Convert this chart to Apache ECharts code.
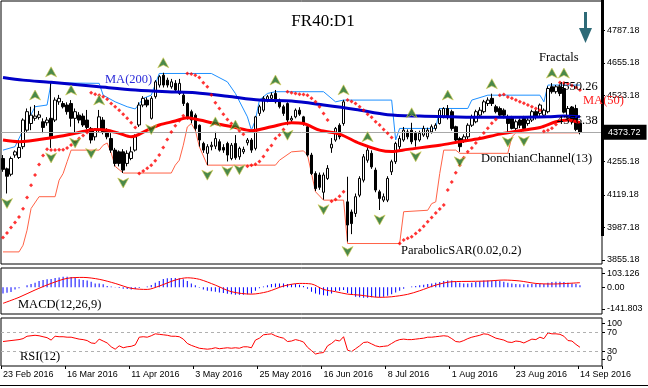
<!DOCTYPE html>
<html><head><meta charset="utf-8">
<script src="https://cdn.jsdelivr.net/npm/echarts@6/dist/echarts.min.js"></script>
<style>html,body{margin:0;padding:0;background:#fff}#c{width:648px;height:388px}</style>
</head><body><div id="c"></div><script>
// ---------- DATA ----------
const open = [4267,4225,4203,4281,4271,4315,4382,4409,4430,4434,
4416,4412,4430,4423,4497,4490,4484,4490,4430,4443,
4439,4423,4389,4355,4382,4423,4382,4348,4301,4294,
4294,4247,4267,4301,4403,4484,4504,4430,4518,4565,
4605,4585,4558,4572,4531,4524,4490,4457,4443,4402,
4328,4288,4315,4317,4335,4312,4328,4267,4328,4274,
4294,4331,4342,4308,4450,4463,4504,4511,4531,4504,
4477,4490,4423,4436,4463,4436,4396,4281,4206,4200,
4130,4186,4310,4342,4402,4409,4091,4050,4044,4118,
4179,4260,4288,4220,4132,4098,4098,4213,4254,4315,
4342,4375,4382,4369,4342,4362,4355,4375,4389,4409,
4436,4470,4457,4396,4348,4342,4355,4402,4416,4443,
4457,4490,4511,4477,4470,4463,4436,4430,4389,4423,
4430,4409,4423,4457,4450,4443,4457,4558,4538,4558,
4551,4430,4476,4470,4410];
const high = [4281,4230,4275,4300,4341,4430,4470,4477,4484,4460,
4430,4435,4578,4515,4525,4500,4495,4504,4470,4455,
4450,4464,4395,4390,4464,4435,4390,4370,4310,4300,
4305,4300,4315,4365,4495,4520,4515,4520,4585,4605,
4615,4595,4590,4585,4590,4535,4495,4465,4450,4405,
4335,4325,4335,4375,4345,4325,4335,4330,4362,4315,
4315,4350,4350,4440,4485,4520,4525,4535,4545,4510,
4485,4495,4440,4470,4475,4440,4400,4290,4215,4210,
4210,4240,4350,4395,4410,4505,4193,4060,4125,4195,
4285,4315,4300,4230,4140,4125,4195,4262,4335,4360,
4395,4385,4412,4378,4380,4400,4392,4405,4410,4470,
4475,4484,4465,4400,4355,4365,4410,4445,4465,4475,
4505,4515,4530,4485,4478,4470,4445,4440,4425,4430,
4440,4435,4465,4465,4490,4470,4560,4573,4565,4565,
4573,4480,4480,4485,4415];
const low = [4213,4125,4195,4270,4265,4305,4375,4382,4420,4425,
4370,4400,4310,4415,4485,4470,4445,4396,4370,4410,
4395,4385,4328,4340,4375,4365,4345,4290,4235,4235,
4208,4235,4260,4295,4395,4475,4475,4425,4510,4555,
4555,4555,4550,4540,4525,4480,4425,4410,4380,4315,
4290,4240,4300,4305,4295,4290,4255,4260,4262,4262,
4285,4320,4290,4300,4440,4455,4495,4500,4490,4470,
4440,4402,4415,4430,4440,4400,4275,4200,4135,4140,
4100,4180,4290,4335,4345,4400,3930,3960,4030,4110,
4170,4250,4225,4130,4058,4090,4090,4200,4245,4305,
4335,4345,4325,4315,4335,4355,4345,4368,4380,4405,
4430,4425,4380,4330,4294,4330,4345,4395,4410,4435,
4450,4480,4480,4450,4435,4430,4375,4385,4380,4390,
4378,4400,4415,4425,4440,4435,4450,4530,4530,4520,
4450,4420,4405,4378,4365];
const close = [4223,4195,4267,4294,4312,4423,4457,4443,4439,4444,
4393,4423,4355,4504,4511,4477,4457,4430,4457,4423,
4403,4393,4342,4382,4436,4375,4355,4301,4247,4247,
4220,4288,4294,4355,4484,4511,4484,4511,4578,4599,
4565,4565,4578,4545,4572,4490,4436,4423,4389,4342,
4301,4315,4321,4348,4301,4301,4281,4321,4270,4308,
4304,4342,4301,4436,4477,4511,4518,4524,4497,4477,
4450,4423,4430,4463,4447,4409,4281,4206,4145,4150,
4200,4227,4325,4389,4355,4497,3997,4003,4112,4186,
4274,4301,4233,4139,4105,4112,4186,4254,4328,4348,
4382,4355,4335,4342,4369,4389,4382,4396,4402,4463,
4470,4436,4389,4342,4315,4355,4402,4436,4457,4463,
4497,4504,4490,4457,4443,4443,4409,4389,4416,4402,
4389,4423,4457,4436,4484,4463,4551,4538,4558,4531,
4455,4470,4415,4385,4373.72];
const lastPrice = 4373.72;

// moving averages / channels: [bar index, value]
const ma200 = [[0,4596],[5,4585],[12,4576],[24,4558],[33,4545],[41,4538],[48,4534],[56,4520],[64,4504],[72,4500],[80,4484],[88,4466],[96,4445],[104,4439],[112,4436],[120,4434],[128,4434],[136,4436],[140,4439],[144,4436]];
const ma50 = [[0,4342],[4,4335],[12,4351],[18,4369],[23,4385],[26,4382],[29,4369],[32,4355],[36,4382],[39,4403],[43,4419],[46,4432],[48,4427],[53,4409],[58,4393],[62,4380],[67,4396],[72,4412],[75,4409],[79,4382],[84,4366],[89,4328],[94,4301],[97,4295],[101,4304],[109,4321],[114,4335],[119,4348],[124,4366],[129,4380],[134,4393],[138,4416],[141,4423],[144,4412]];
const donUpper = [[0,4301],[3,4315],[5,4382],[8,4477],[11,4484],[12,4574],[24,4572],[25,4524],[28,4497],[31,4477],[33,4468],[35,4511],[37,4524],[39,4612],[52,4612],[56,4578],[58,4531],[61,4436],[62,4382],[63,4423],[64,4504],[66,4531],[68,4538],[80,4538],[83,4497],[85,4504],[97,4504],[98,4342],[99,4389],[108,4389],[109,4470],[116,4470],[117,4504],[121,4524],[134,4524],[135,4497],[136,4565],[144,4565]];
const donLower = [[0,3888],[4,3888],[5,3915],[6,3976],[7,4064],[9,4112],[13,4112],[14,4179],[15,4206],[16,4254],[17,4301],[24,4301],[25,4321],[26,4330],[27,4290],[28,4235],[30,4208],[42,4208],[43,4240],[44,4260],[45,4321],[46,4395],[47,4409],[48,4382],[49,4315],[51,4240],[68,4240],[69,4260],[72,4294],[75,4298],[76,4281],[77,4206],[78,4132],[80,4098],[85,4098],[86,3922],[99,3922],[100,4051],[106,4057],[107,4084],[108,4091],[109,4206],[110,4301],[113,4301],[114,4288],[126,4288],[127,4355],[128,4371],[144,4371]];
const sar = [[0,3946],[1,3965],[2,3987],[3,4007],[4,4030],[5,4063],[6,4109],[7,4158],[8,4200],[9,4243],[10,4279],[11,4305],
[12,4301],[13,4301],[14,4303],[15,4303],[16,4310],[17,4322],[18,4335],[19,4348],[20,4360],[21,4372],
[22,4534],[23,4528],[24,4524],[25,4518],[26,4507],[27,4490],[28,4477],[29,4463],[30,4447],[31,4430],[32,4412],[33,4393],
[34,4206],[35,4216],[36,4227],[37,4240],[38,4258],[39,4281],[40,4312],[41,4344],[42,4375],[43,4400],[44,4420],[45,4440],
[46,4612],[47,4610],[48,4605],[49,4596],[50,4574],[51,4558],[52,4525],[53,4493],[54,4470],[55,4447],[56,4425],[57,4409],[58,4395],[59,4380],[60,4365],
[61,4236],[62,4240],[63,4244],[64,4255],[65,4275],[66,4301],[67,4320],[68,4348],[69,4362],[70,4385],
[71,4538],[72,4534],[73,4531],[74,4528],[75,4527],[76,4524],[77,4511],[78,4497],[79,4477],[80,4450],[81,4423],
[82,4094],[83,4101],[84,4114],[85,4132],
[86,4504],[87,4498],[88,4490],[89,4477],[90,4463],[91,4447],[92,4434],[93,4416],[94,4403],[95,4385],[96,4369],[97,4352],
[99,3922],[100,3936],[101,3943],[102,3949],[103,3963],[104,3976],[105,3992],[106,4010],[107,4028],[108,4046],[109,4062],[110,4078],[111,4139],[112,4172],[113,4209],[114,4240],[115,4270],[116,4294],[117,4310],[118,4330],[119,4350],[120,4370],[121,4390],[122,4410],[123,4425],
[124,4524],[125,4527],[126,4517],[127,4511],[128,4504],[129,4497],[130,4491],[131,4484],[132,4477],[133,4470],[134,4463],
[135,4378],[136,4382],[137,4390],[138,4405],
[139,4575],[140,4573],[141,4570],[142,4563],[143,4555],[144,4545]];
const fractalUp = [8,12,17,24,40,53,58,68,85,91,102,111,122,137,140];
const fractalDown = [1,12,18,22,30,37,51,56,59,71,80,86,94,103,114,126,130];

const macdHist = [-32,-29,-25,-11,-5,0,11,18,25,34,
39,43,44,50,53,57,57,55,50,43,
39,36,30,21,21,16,7,4,-1,-4,
-7,-9,-11,-9,-4,0,5,12,25,34,
44,48,50,50,48,43,34,21,11,-2,
-11,-18,-21,-23,-27,-30,-34,-37,-39,-39,
-39,-37,-32,-18,-5,4,11,18,21,21,
21,18,16,18,14,7,-7,-23,-32,-38,
-42,-44,-32,-20,-18,-14,-30,-41,-50,-53,
-55,-55,-53,-51,-53,-50,-44,-36,-27,-18,
-7,0,4,7,11,14,18,21,25,28,
34,36,36,30,25,21,21,25,28,32,
36,37,37,36,34,30,25,21,18,16,
16,16,18,18,20,18,25,28,30,30,
28,25,21,18,11];
const macdSignal = [[0,-85],[4,-53],[8,-14],[12,21],[16,48],[20,53],[24,43],[28,21],[32,-5],[36,-11],[39,7],[43,39],[46,51],[49,43],[53,12],[57,-23],[62,-36],[66,-23],[70,7],[74,21],[77,18],[80,-11],[83,-23],[86,-36],[89,-41],[94,-53],[97,-50],[101,-37],[104,-18],[108,12],[112,30],[117,32],[121,34],[125,39],[129,34],[133,21],[137,18],[144,25]];
const rsi = [51,52,53,54,55,57,62,63,64,63,
61,59,54,62,61,61,60,60,58,56,
55,53,48,47,56,52,48,40,35,42,
38,40,41,44,60,61,60,63,67,66,
65,64,62,62,61,56,47,43,40,37,
36,35,36,38,36,37,38,37,38,37,
40,40,38,54,58,65,66,67,63,60,
58,51,52,55,53,50,39,32,25,27,
28,42,47,54,52,61,33,30,36,42,
49,50,46,42,40,41,42,47,52,55,
56,55,55,56,57,58,60,60,61,62,
63,62,57,51,50,53,57,60,62,64,
67,66,62,58,56,54,50,49,52,51,
48,52,56,55,60,57,69,67,67,66,
62,53,52,45,39];

// scale labels
const priceTicks = [3855.18,3987.18,4119.18,4255.18,4523.18,4655.18,4787.18];
const macdMin = -141.803, macdMax = 103.126;
const macdLabels = ['-141.803','0.00','103.126'];
const rsiLabels = ['30','70','100'];
const rsiZeroLabel = '0';
const rsiLevels = [70,30];
// label anchor values (MT4 pulls the end labels inside the pane)
const macdLabelAt = [-115, 0, 75];
const rsiLabelAt = [30, 70, 89];
const rsiZeroAt = [15];

// trading days 23 Feb 2016 .. 14 Sep 2016 (Paris holidays 25 & 28 Mar excluded)
const holidays = ['2016-03-25','2016-03-28'];
const months = ['Jan','Feb','Mar','Apr','May','Jun','Jul','Aug','Sep','Oct','Nov','Dec'];
const dates = [];
for (let d = new Date(Date.UTC(2016,1,23)); d <= new Date(Date.UTC(2016,8,14)); d.setUTCDate(d.getUTCDate()+1)) {
  const wd = d.getUTCDay();
  const iso = d.toISOString().slice(0,10);
  if (wd === 0 || wd === 6 || holidays.includes(iso)) continue;
  dates.push(d.getUTCDate() + ' ' + months[d.getUTCMonth()] + ' ' + d.getUTCFullYear());
}
const xData = dates.concat(['','','','','']);

// ---------- CHART ----------
const chart = echarts.init(document.getElementById('c'), null, {renderer:'canvas'});
const SANS = 'Liberation Sans';
const SERIF = 'Liberation Serif';
const candles = open.map((o,i)=>[o, close[i], low[i], high[i]]);
const upPts = fractalUp.map(i=>[i, high[i]]);
const dnPts = fractalDown.map(i=>[i, low[i]]);

const xBase = {type:'category', data:xData, boundaryGap:true,
  axisLine:{show:false}, axisTick:{show:false}, axisLabel:{show:false}, splitLine:{show:false}};
const yBase = {type:'value', position:'right',
  axisLine:{show:false}, splitLine:{show:false}};
const lab = {fontFamily:SANS, fontSize:9, lineHeight:7, color:'#000', margin:5, hideOverlap:false, showMinLabel:true, showMaxLabel:true};

function txt(text, x, y, color, size, align){
  return {type:'text', silent:true, z:50, style:{text:text, x:x, y:y, fill:color||'#000',
    font:(size||12.5)+'px "'+SERIF+'"', align:align||'left', verticalAlign:'middle'}};
}
const arrowUp = 'path://M6,0 L12,11 L6,8 L0,11 Z';
const arrowDn = 'path://M0,0 L6,3 L12,0 L6,11 Z';

chart.setOption({
  animation:false,
  backgroundColor:'#fff',
  grid:[
    {left:1, right:46, top:1, height:263, show:true, borderColor:'#000', borderWidth:1},
    {left:1, right:46, top:268, height:46, show:true, borderColor:'#000', borderWidth:1},
    {left:1, right:46, top:318, height:48, show:true, borderColor:'#000', borderWidth:1}
  ],
  xAxis:[
    Object.assign({}, xBase, {gridIndex:0}),
    Object.assign({}, xBase, {gridIndex:1}),
    Object.assign({}, xBase, {gridIndex:2,
      axisTick:{show:true, length:3, interval:(i)=>i%16===0 && i<=144, lineStyle:{color:'#000'}},
      axisLabel:{show:true, interval:(i)=>i%16===0 && i<=144, align:'left', fontFamily:SANS, fontSize:9, color:'#000', margin:4}})
  ],
  yAxis:[
    Object.assign({}, yBase, {gridIndex:0, min:3838.9, max:4906.1,
      axisTick:{show:true, length:3, lineStyle:{color:'#000'}, customValues:priceTicks},
      axisLabel:Object.assign({}, lab, {customValues:priceTicks, formatter:(v)=>v.toFixed(2)})}),
    Object.assign({}, yBase, {gridIndex:1, min:macdMin, max:macdMax,
      axisTick:{show:true, length:3, lineStyle:{color:'#000'}, customValues:macdLabelAt},
      axisLabel:Object.assign({}, lab, {customValues:macdLabelAt,
        formatter:(v)=> macdLabels[macdLabelAt.indexOf(v)]})}),
    Object.assign({}, yBase, {gridIndex:2, min:0, max:100,
      axisTick:{show:true, length:3, lineStyle:{color:'#000'}, customValues:rsiLabelAt},
      axisLabel:Object.assign({}, lab, {customValues:rsiLabelAt,
        formatter:(v)=> rsiLabels[rsiLabelAt.indexOf(v)]})}),
    Object.assign({}, yBase, {gridIndex:2, min:0, max:100,
      axisTick:{show:true, length:3, lineStyle:{color:'#000'}, customValues:rsiZeroAt},
      axisLabel:Object.assign({}, lab, {customValues:rsiZeroAt, formatter:()=>rsiZeroLabel})})
  ],
  series:[
    {type:'line', name:'DonUp', xAxisIndex:0, yAxisIndex:0, data:donUpper, showSymbol:false, z:2,
      lineStyle:{color:'#1e90ff', width:1}},
    {type:'line', name:'DonLo', xAxisIndex:0, yAxisIndex:0, data:donLower, showSymbol:false, z:2,
      lineStyle:{color:'#ff6347', width:1}},
    {type:'candlestick', xAxisIndex:0, yAxisIndex:0, data:candles, barWidth:3, z:3,
      itemStyle:{color:'#fff', color0:'#000', borderColor:'#000', borderColor0:'#000', borderWidth:1},
      markLine:{silent:true, symbol:['none','none'], animation:false,
        lineStyle:{color:'#a8a8a8', type:'solid', width:1},
        label:{show:true, position:'end', distance:1, formatter:lastPrice.toFixed(2), backgroundColor:'#000', color:'#fff',
          fontFamily:SANS, fontSize:9, padding:[3,6,3,5]},
        data:[{yAxis:lastPrice}]}},
    {type:'line', name:'MA200', xAxisIndex:0, yAxisIndex:0, data:ma200, showSymbol:false, smooth:0.3, z:4,
      lineStyle:{color:'#0000c8', width:3}},
    {type:'line', name:'MA50', xAxisIndex:0, yAxisIndex:0, data:ma50, showSymbol:false, smooth:0.3, z:4,
      lineStyle:{color:'#ff0000', width:3}},
    {type:'scatter', name:'SAR', xAxisIndex:0, yAxisIndex:0, data:sar, symbol:'diamond', symbolSize:4, z:5,
      itemStyle:{color:'#ff0000'}},
    {type:'scatter', name:'FracUp', xAxisIndex:0, yAxisIndex:0, data:upPts, symbol:arrowUp, symbolSize:[11,10],
      symbolOffset:[0,-10], z:6, itemStyle:{color:'#1d6b1d', borderColor:'#d8cc55', borderWidth:0.8}},
    {type:'scatter', name:'FracDn', xAxisIndex:0, yAxisIndex:0, data:dnPts, symbol:arrowDn, symbolSize:[11,10],
      symbolOffset:[0,10], z:6, itemStyle:{color:'#1d6b1d', borderColor:'#d8cc55', borderWidth:0.8}},
    {type:'bar', name:'MACD', xAxisIndex:1, yAxisIndex:1, data:macdHist, barWidth:1, itemStyle:{color:'#0000ff'}},
    {type:'line', name:'Signal', xAxisIndex:1, yAxisIndex:1, data:macdSignal, showSymbol:false, smooth:0.3,
      lineStyle:{color:'#ff0000', width:1}},
    {type:'line', name:'RSI', xAxisIndex:2, yAxisIndex:2, data:rsi, showSymbol:false,
      lineStyle:{color:'#ff0000', width:1},
      markLine:{silent:true, symbol:['none','none'], label:{show:false},
        lineStyle:{color:'#b0b0b0', type:[3,3], width:1},
        data:rsiLevels.map(v=>({yAxis:v}))}}
  ],
  graphic:[
    {type:'rect', silent:true, z:40, shape:{x:601, y:0, width:3, height:236}, style:{fill:'#000'}},
    {type:'line', silent:true, z:40, shape:{x1:0, y1:385.5, x2:648, y2:385.5}, style:{stroke:'#000', lineWidth:1}},
    {type:'rect', silent:true, z:40, shape:{x:584, y:12, width:3, height:18}, style:{fill:'#2e6a77'}},
    {type:'polygon', silent:true, z:40, shape:{points:[[579,28],[592,28],[585.5,43]]}, style:{fill:'#2e6a77'}},
    txt('FR40:D1', 323, 22, '#000', 17, 'center'),
    txt('MA(200)', 105, 80, '#2b2bd9'),
    txt('MA(50)', 583, 101, '#ff2020'),
    txt('Fractals', 539, 58),
    txt('4550.26', 557, 87),
    txt('4376.38', 557, 121),
    txt('DonchianChannel(13)', 481, 159),
    txt('ParabolicSAR(0.02,0.2)', 401, 251),
    txt('MACD(12,26,9)', 18, 305),
    txt('RSI(12)', 20, 357)
  ]
});
</script></body></html>
